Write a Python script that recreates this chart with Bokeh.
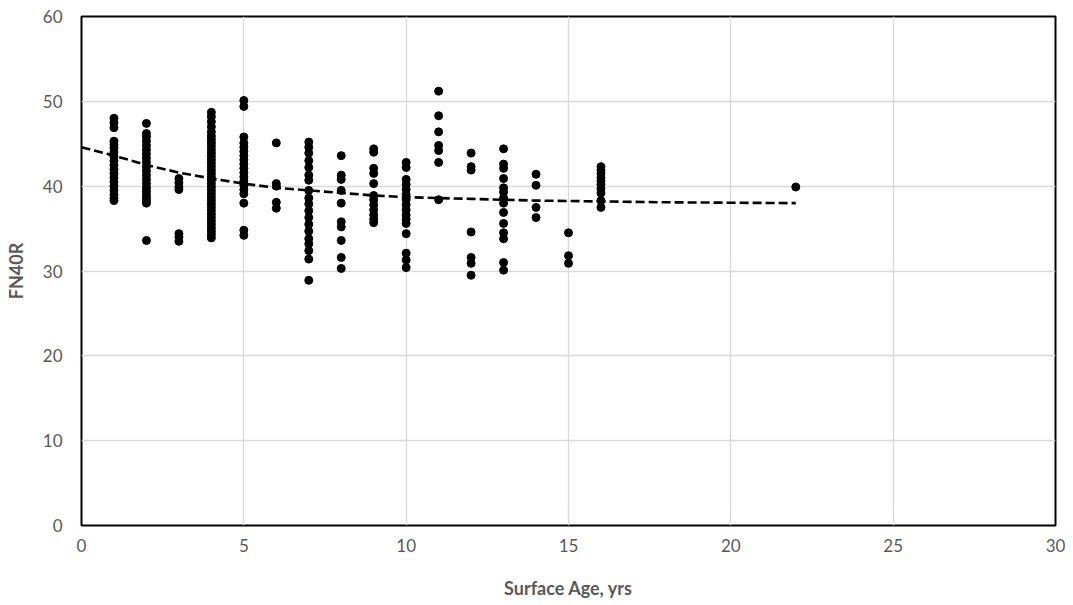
from bokeh.plotting import figure
from bokeh.models import ColumnDataSource, FixedTicker, Range1d
from bokeh.embed import file_html
from bokeh.resources import INLINE

age = (
    [1] * 19 + [2] * 21 + [3] * 7 + [4] * 36 + [5] * 19 + [6] * 5 + [7] * 19 +
    [8] * 10 + [9] * 12 + [10] * 16 + [11] * 7 + [12] * 7 + [13] * 14 + [14] * 4 +
    [15] * 3 + [16] * 10 + [22] * 1
)
fn40r = (
    # age 1
    [48.0, 47.5, 46.9, 45.3, 44.9, 44.5, 44.0, 43.5, 43.0, 42.5, 42.0, 41.5, 41.0,
     40.5, 40.0, 39.5, 39.0, 38.6, 38.3]
    # age 2
    + [47.4, 46.2, 45.8, 45.3, 44.8, 44.3, 43.8, 43.3, 42.8, 42.3, 41.8, 41.3, 40.8,
       40.3, 39.8, 39.4, 39.0, 38.6, 38.3, 38.0, 33.6]
    # age 3
    + [40.9, 40.4, 39.9, 39.6, 34.4, 34.0, 33.5]
    # age 4
    + [48.7, 48.2, 47.6, 47.0, 46.4, 45.9, 45.5, 45.1, 44.7, 44.3, 43.9, 43.5, 43.1,
       42.7, 42.3, 41.9, 41.5, 41.1, 40.7, 40.3, 39.9, 39.5, 39.1, 38.7, 38.3, 37.9,
       37.5, 37.1, 36.7, 36.3, 35.9, 35.5, 35.1, 34.7, 34.3, 33.9]
    # age 5
    + [50.1, 49.4, 45.8, 45.1, 44.6, 44.1, 43.6, 43.1, 42.6, 42.1, 41.6, 41.1, 40.6,
       40.1, 39.6, 39.1, 38.0, 34.8, 34.2]
    # age 6
    + [45.1, 40.3, 40.0, 38.1, 37.4]
    # age 7
    + [45.2, 44.6, 43.9, 43.0, 42.2, 41.3, 40.7, 39.5, 38.6, 37.9, 37.1, 36.3, 35.5,
       34.7, 33.8, 33.2, 32.4, 31.4, 28.9]
    # age 8
    + [43.6, 41.3, 40.8, 39.5, 38.0, 35.8, 35.2, 33.6, 31.6, 30.3]
    # age 9
    + [44.4, 44.0, 42.1, 41.5, 40.3, 38.9, 38.4, 37.8, 37.2, 36.6, 36.1, 35.7]
    # age 10
    + [42.8, 42.2, 40.8, 40.2, 39.6, 39.0, 38.4, 37.8, 37.2, 36.6, 36.1, 35.6, 34.4,
       32.1, 31.3, 30.4]
    # age 11
    + [51.2, 48.3, 46.4, 44.8, 44.2, 42.8, 38.4]
    # age 12
    + [43.9, 42.3, 41.9, 34.6, 31.6, 30.9, 29.5]
    # age 13
    + [44.4, 42.6, 42.1, 40.9, 39.8, 39.3, 38.6, 38.0, 36.9, 35.6, 34.5, 33.8, 31.0,
       30.1]
    # age 14
    + [41.4, 40.1, 37.5, 36.3]
    # age 15
    + [34.5, 31.8, 30.9]
    # age 16
    + [42.3, 41.9, 41.5, 41.0, 40.6, 40.2, 39.7, 39.2, 38.3, 37.5]
    # age 22
    + [39.9]
)

trend_age = [0, 1, 2, 3, 4, 5, 6, 7, 8, 9, 10, 12, 14, 16, 18, 20, 22]
trend_fn40r = [44.6, 43.6, 42.5, 41.6, 40.9, 40.3, 39.8, 39.5, 39.2, 38.9, 38.7,
               38.5, 38.3, 38.2, 38.1, 38.05, 38.0]

x_ticks = [0, 5, 10, 15, 20, 25, 30]
y_ticks = [0, 10, 20, 30, 40, 50, 60]

FONT = "Lato"
GREY = "#595959"

p = figure(width=1065, height=601, output_backend="svg", toolbar_location=None,
           x_range=Range1d(0, 30), y_range=Range1d(0, 60),
           min_border_left=81, min_border_right=10, min_border_top=16,
           min_border_bottom=76)

p.line(trend_age, trend_fn40r, line_color="black", line_width=2.6,
       line_dash="9 4")
src = ColumnDataSource(dict(x=age, y=fn40r))
p.scatter("x", "y", source=src, size=8, fill_color="black", line_color="black")

p.outline_line_color = "black"
p.outline_line_width = 2
p.background_fill_color = "white"
p.border_fill_color = "white"

for ax, ticks in ((p.xaxis, x_ticks), (p.yaxis, y_ticks)):
    ax.ticker = FixedTicker(ticks=ticks)
    ax.axis_line_color = None
    ax.major_tick_line_color = None
    ax.minor_tick_line_color = None
    ax.major_tick_out = 0
    ax.major_tick_in = 0
    ax.major_label_text_font = FONT
    ax.major_label_text_font_size = "17px"
    ax.major_label_text_color = GREY
    ax.axis_label_text_font = FONT
    ax.axis_label_text_font_size = "18px"
    ax.axis_label_text_font_style = "bold"
    ax.axis_label_text_color = GREY

p.xaxis.axis_label = "Surface Age, yrs"
p.yaxis.axis_label = "FN40R"
p.xaxis.major_label_standoff = 13
p.yaxis.major_label_standoff = 19
p.xaxis.axis_label_standoff = 22
p.yaxis.axis_label_standoff = 13

p.xgrid.ticker = FixedTicker(ticks=x_ticks)
p.ygrid.ticker = FixedTicker(ticks=y_ticks)
p.grid.grid_line_color = "#d9d9d9"
p.grid.grid_line_width = 1.3

open("out.html", "w").write(file_html(p, INLINE))
